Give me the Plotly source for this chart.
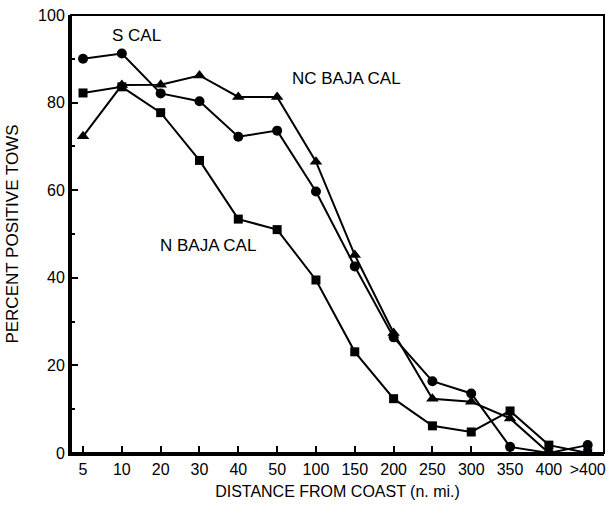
import plotly.graph_objects as go

categories = ["5", "10", "20", "30", "40", "50", "100", "150", "200", "250", "300", "350", "400", ">400"]
s_cal = [90.0, 91.2, 82.1, 80.3, 72.2, 73.6, 59.7, 42.6, 26.4, 16.4, 13.6, 1.4, 0.0, 1.8]
nc_baja = [72.3, 84.0, 84.1, 86.2, 81.3, 81.3, 66.5, 45.2, 27.4, 12.4, 11.7, 7.9, 0.0, 0.0]
n_baja = [82.2, 83.6, 77.7, 66.8, 53.4, 51.0, 39.5, 23.1, 12.4, 6.2, 4.8, 9.6, 1.8, 0.0]
y_major = [0, 20, 40, 60, 80, 100]

FONT = "Liberation Sans, Arial, Helvetica, sans-serif"

fig = go.Figure()
for name, vals, sym, size in [
    ("S CAL", s_cal, "circle", 10),
    ("NC BAJA CAL", nc_baja, "triangle-up", 11),
    ("N BAJA CAL", n_baja, "square", 9),
]:
    fig.add_trace(go.Scatter(
        x=categories, y=vals, name=name, mode="lines+markers",
        line=dict(color="black", width=2),
        marker=dict(symbol=sym, size=size, color="black"),
        showlegend=False,
    ))

W, H = 607, 508
ml, mr, mt, mb = 71, 3, 15, 55
pw, ph = W - ml - mr, H - mt - mb
labels = [("S CAL", 136, 36), ("NC BAJA CAL", 346, 78), ("N BAJA CAL", 208, 245)]
for txt, px, py in labels:
    fig.add_annotation(
        x=(px - ml) / pw, y=1 - (py - mt) / ph, xref="paper", yref="paper",
        text=txt, showarrow=False, xanchor="center", yanchor="middle",
        font=dict(family=FONT, size=17, color="black"),
    )

# plot frame (backup for the axis lines)
fig.add_shape(type="rect", xref="paper", yref="paper", x0=0, y0=0, x1=1, y1=1,
              line=dict(color="black", width=2), fillcolor="rgba(0,0,0,0)", layer="above")

fig.update_layout(
    width=W, height=H,
    margin=dict(l=ml, r=mr, t=mt, b=mb, autoexpand=False),
    plot_bgcolor="white", paper_bgcolor="white",
    font=dict(family=FONT, color="black"),
    xaxis=dict(
        type="category", range=[-0.31, 13.42], automargin=False,
        showgrid=False, zeroline=False,
        showline=True, linecolor="black", linewidth=3,
        ticks="inside", ticklen=7, tickwidth=2, tickcolor="black",
        tickfont=dict(family=FONT, size=16, color="black"),
        title=dict(text="DISTANCE FROM COAST (n. mi.)", font=dict(family=FONT, size=16, color="black"), standoff=9),
    ),
    yaxis=dict(
        range=[0, 100], tickvals=y_major, automargin=False,
        showgrid=False, zeroline=False,
        showline=True, linecolor="black", linewidth=3,
        ticks="inside", ticklen=7, tickwidth=2, tickcolor="black",
        minor=dict(ticks="inside", ticklen=4, tickwidth=2, tickcolor="black", dtick=10, tick0=0),
        tickfont=dict(family=FONT, size=16, color="black"),
        title=dict(text="PERCENT POSITIVE TOWS", font=dict(family=FONT, size=17, color="black"), standoff=16),
    ),
)

fig.write_html("out.html", post_script="document.body.style.margin='0';", config={"displayModeBar": False})
